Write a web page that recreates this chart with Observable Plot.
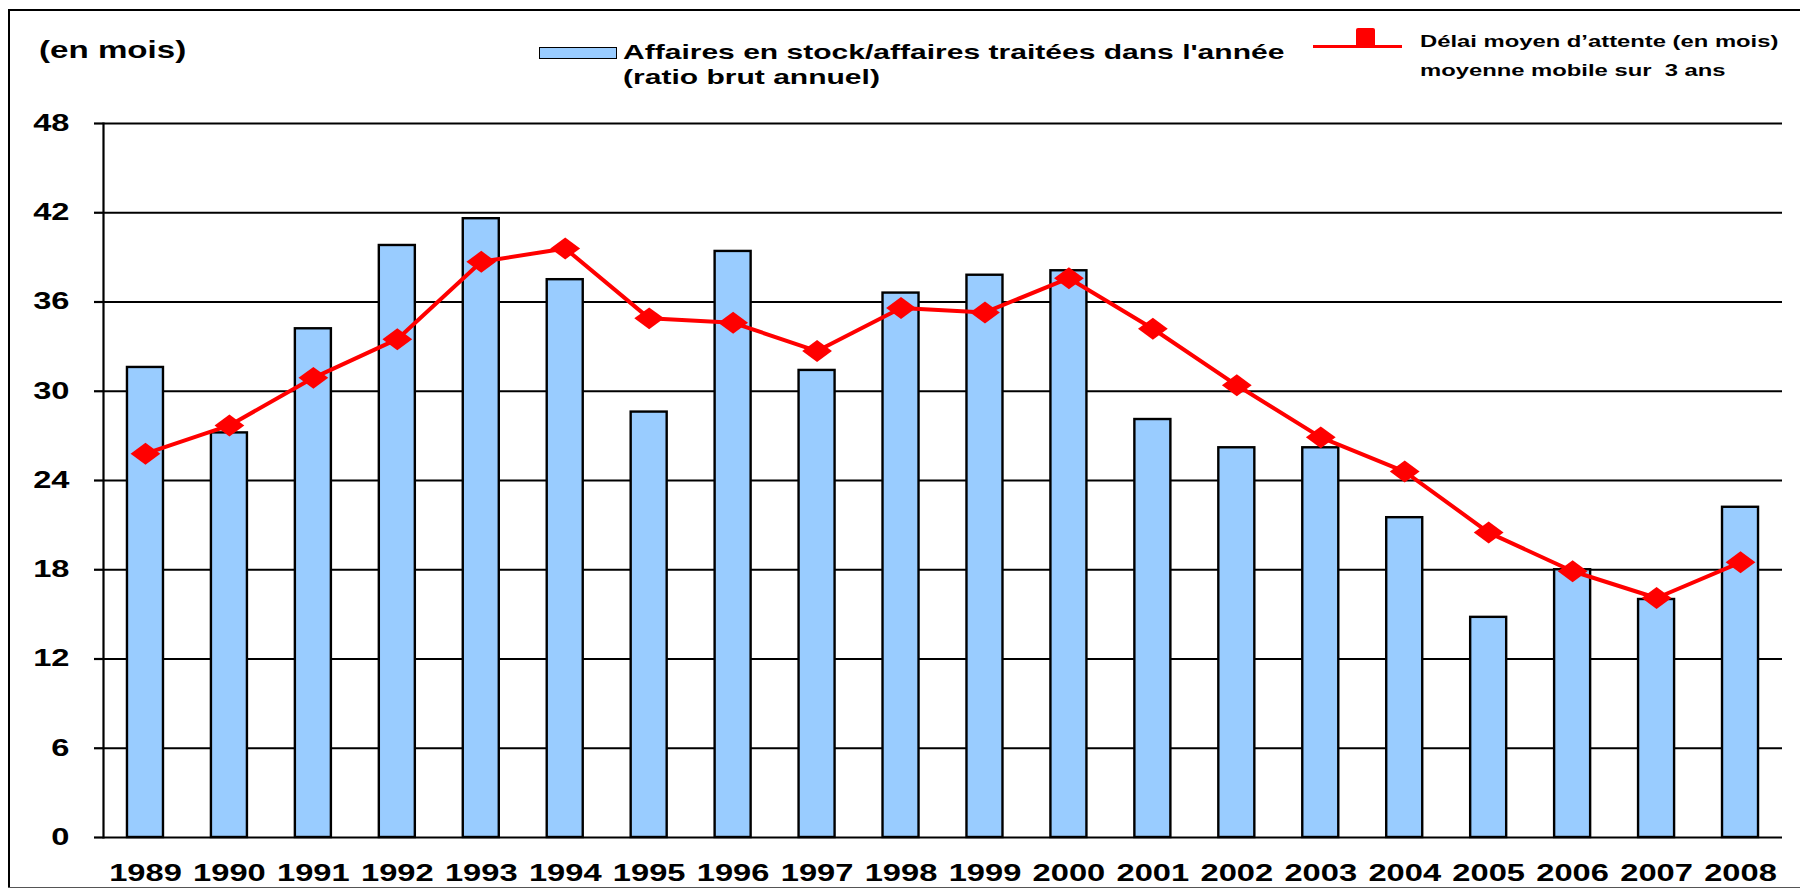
<!DOCTYPE html>
<html>
<head>
<meta charset="utf-8">
<script src="https://cdn.jsdelivr.net/npm/d3@7"></script>
<script src="https://cdn.jsdelivr.net/npm/@observablehq/plot@0.6"></script>
<style>
  html, body { margin: 0; padding: 0; background: white; overflow: hidden; }
  #wrap { position: relative; width: 1800px; height: 888px; font-family: "Liberation Sans", Arial, sans-serif; font-weight: bold; color: black; }
  #head { position: relative; width: 1800px; height: 100px; }
  .t { position: absolute; white-space: pre; transform-origin: 0 0; }
  .b { position: absolute; background: black; }
  #chart svg g[aria-label*="axis"], #chart svg [aria-label="frame"], #chart svg .domain { stroke-width: 2.2; }
</style>
</head>
<body>
<div id="wrap">
  <div id="head">
    <div class="t" style="left:39px; top:37.7px; font-size:24px; line-height:24px; transform:scaleX(1.38)">(en mois)</div>
    <div style="position:absolute; left:538.5px; top:46.7px; width:78px; height:12px; background:#99CCFF; border:1.5px solid black; box-sizing:border-box"></div>
    <div class="t" style="left:623px; top:40.9px; font-size:21px; line-height:21px; transform:scaleX(1.43)">Affaires en stock/affaires traitées dans l'année</div>
    <div class="t" style="left:623px; top:66px; font-size:21px; line-height:21px; transform:scaleX(1.43)">(ratio brut annuel)</div>
    <div style="position:absolute; left:1313px; top:44.5px; width:89px; height:3px; background:#FF0000"></div>
    <div style="position:absolute; left:1356px; top:28.3px; width:19px; height:20px; background:#FF0000; border-radius:2px"></div>
    <div class="t" style="left:1419.5px; top:33.1px; font-size:17px; line-height:17px; transform:scaleX(1.40)">Délai moyen d’attente (en mois)</div>
    <div class="t" style="left:1419.5px; top:61.6px; font-size:17px; line-height:17px; transform:scaleX(1.40)">moyenne mobile sur  3 ans</div>
  </div>
  <div id="chart"></div>
  <div class="b" style="left:8.3px; top:9px; width:2px; height:879px"></div>
  <div class="b" style="left:8.3px; top:9px; width:1792px; height:2.2px"></div>
  <div class="b" style="left:8.3px; top:886.5px; width:1792px; height:1.5px; background:#555"></div>
</div>
<script>
const years = ["1989","1990","1991","1992","1993","1994","1995","1996","1997","1998","1999","2000","2001","2002","2003","2004","2005","2006","2007","2008"];
const ratio = [31.6, 27.2, 34.2, 39.8, 41.6, 37.5, 28.6, 39.4, 31.4, 36.6, 37.8, 38.1, 28.1, 26.2, 26.2, 21.5, 14.8, 18.0, 16.0, 22.2];
const delai = [25.8, 27.7, 30.9, 33.5, 38.7, 39.6, 34.9, 34.6, 32.7, 35.6, 35.3, 37.6, 34.2, 30.4, 26.9, 24.6, 20.5, 17.9, 16.1, 18.5];
const yTicks = [0, 6, 12, 18, 24, 30, 36, 42, 48];

const data = years.map((year, i) => ({year, ratio: ratio[i], delai: delai[i]}));

const wideDiamond = {
  draw(context, size) {
    const r = Math.sqrt(size / Math.PI);
    const hx = r * 1.22, hy = r * 0.9;
    context.moveTo(0, -hy);
    context.lineTo(hx, 0);
    context.lineTo(0, hy);
    context.lineTo(-hx, 0);
    context.closePath();
  }
};

const chart = Plot.plot({
  width: 1800,
  height: 788,
  marginLeft: 103,
  marginRight: 18,
  marginTop: 23,
  marginBottom: 51,
  style: {fontFamily: "Liberation Sans, Arial, sans-serif", fontWeight: "bold", fontSize: "23px", color: "black", background: "white"},
  x: {domain: years, paddingInner: 0.571, paddingOuter: 0.2855, align: 0.5, round: false, label: null, tickSize: 0, tickPadding: 27},
  y: {domain: [0, 48], ticks: yTicks, tickSize: 9, tickPadding: 25, label: null, line: true, tickFormat: d => String(d)},
  marks: [
    Plot.ruleY(yTicks, {stroke: "black", strokeWidth: 2}),
    Plot.barY(data, {x: "year", y: "ratio", fill: "#99CCFF", stroke: "black", strokeWidth: 2.4}),
    Plot.line(data, {x: "year", y: "delai", stroke: "#FF0000", strokeWidth: 4}),
    Plot.dot(data, {x: "year", y: "delai", symbol: wideDiamond, r: 12.2, fill: "#FF0000", stroke: "none"})
  ]
});

// stretch the tick labels horizontally like the reference lettering
chart.querySelectorAll("text").forEach(t => {
  const x = +(t.getAttribute("x") || 0);
  const tr = t.getAttribute("transform") || "";
  t.removeAttribute("x");
  t.setAttribute("transform", `${tr} translate(${x},0) scale(1.42,1)`.trim());
});

document.getElementById("chart").appendChild(chart);
</script>
</body>
</html>
